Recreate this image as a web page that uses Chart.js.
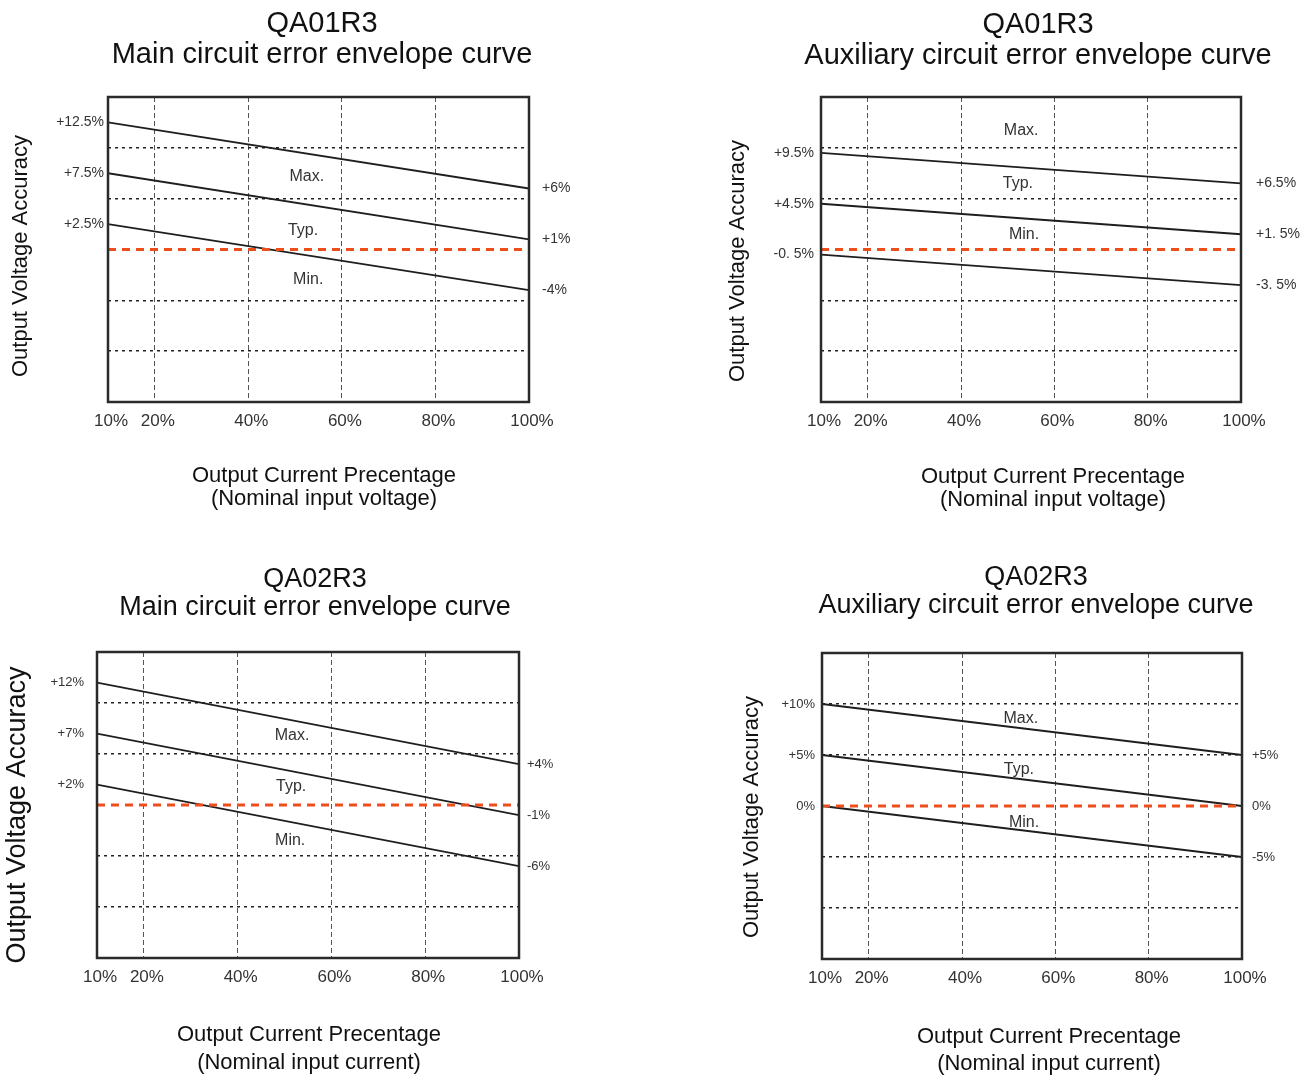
<!DOCTYPE html>
<html>
<head>
<meta charset="utf-8">
<title>QA01R3 / QA02R3 error envelope curves</title>
<script src="https://cdn.jsdelivr.net/npm/chart.js@4.4.1/dist/chart.umd.min.js"></script>
<style>
    html, body { margin: 0; padding: 0; background: #fff; }
    #page { position: relative; width: 1309px; height: 1079px; overflow: hidden; }
    #page canvas { position: absolute; }
</style>
</head>
<body>
<div id="page">
    <canvas id="qa01-main"></canvas>
    <canvas id="qa01-aux"></canvas>
    <canvas id="qa02-main"></canvas>
    <canvas id="qa02-aux"></canvas>
</div>
<script>
// ---- data ----
const loadPoints = [10, 100];               // output current %, start and end of each curve
const xTickValues = [10, 20, 40, 60, 80, 100];
const xTickLabels = ['10%', '20%', '40%', '60%', '80%', '100%'];
const yGridTicks = [-15, -10, -5, 0, 5, 10, 15];
const zeroLine = [0, 0];

const qa01MainMax = [12.5, 6];
const qa01MainTyp = [7.5, 1];
const qa01MainMin = [2.5, -4];
const qa01MainStartLabels = ['+12.5%', '+7.5%', '+2.5%'];
const qa01MainEndLabels = ['+6%', '+1%', '-4%'];

const qa01AuxMax = [9.5, 6.5];
const qa01AuxTyp = [4.5, 1.5];
const qa01AuxMin = [-0.5, -3.5];
const qa01AuxStartLabels = ['+9.5%', '+4.5%', '-0. 5%'];
const qa01AuxEndLabels = ['+6.5%', '+1. 5%', '-3. 5%'];

const qa02MainMax = [12, 4];
const qa02MainTyp = [7, -1];
const qa02MainMin = [2, -6];
const qa02MainStartLabels = ['+12%', '+7%', '+2%'];
const qa02MainEndLabels = ['+4%', '-1%', '-6%'];

const qa02AuxMax = [10, 5];
const qa02AuxTyp = [5, 0];
const qa02AuxMin = [0, -5];
const qa02AuxStartLabels = ['+10%', '+5%', '0%'];
const qa02AuxEndLabels = ['+5%', '0%', '-5%'];

// ---- layout (page pixel coords) ----
const FONT = "'Liberation Sans', Arial, sans-serif";

const panels = [
    {
        id: 'qa01-main', box: { x: 0, y: 0, w: 654, h: 540 },
        area: { l: 108, t: 97, r: 529, b: 402 },
        series: [qa01MainMax, qa01MainTyp, qa01MainMin],
        startLabels: qa01MainStartLabels, endLabels: qa01MainEndLabels,
        labelSize: 14, leftPad: 4, rightPad: 13,
        notes: [{ text: 'Max.', x: 52.5, y: 7.2 }, { text: 'Typ.', x: 51.7, y: 1.9 }, { text: 'Min.', x: 52.8, y: -3.0 }],
        captions: [
            { text: 'QA01R3', x: 322, y: 24, size: 29 },
            { text: 'Main circuit error envelope curve', x: 322, y: 55, size: 29 },
            { text: 'Output Voltage Accuracy', x: 21, y: 256, size: 22, rotate: true },
            { text: 'Output Current Precentage', x: 324, y: 476, size: 22 },
            { text: '(Nominal input voltage)', x: 324, y: 499, size: 22 }
        ]
    },
    {
        id: 'qa01-aux', box: { x: 654, y: 0, w: 655, h: 540 },
        area: { l: 821, t: 97, r: 1241, b: 402 },
        series: [qa01AuxMax, qa01AuxTyp, qa01AuxMin],
        startLabels: qa01AuxStartLabels, endLabels: qa01AuxEndLabels,
        labelSize: 14, leftPad: 7, rightPad: 15,
        notes: [{ text: 'Max.', x: 52.9, y: 11.7 }, { text: 'Typ.', x: 52.2, y: 6.5 }, { text: 'Min.', x: 53.5, y: 1.45 }],
        captions: [
            { text: 'QA01R3', x: 1038, y: 25, size: 29 },
            { text: 'Auxiliary circuit error envelope curve', x: 1038, y: 56, size: 29 },
            { text: 'Output Voltage Accuracy', x: 738, y: 261, size: 22, rotate: true },
            { text: 'Output Current Precentage', x: 1053, y: 477, size: 22 },
            { text: '(Nominal input voltage)', x: 1053, y: 500, size: 22 }
        ]
    },
    {
        id: 'qa02-main', box: { x: 0, y: 540, w: 654, h: 539 },
        area: { l: 97, t: 652, r: 519, b: 958 },
        series: [qa02MainMax, qa02MainTyp, qa02MainMin],
        startLabels: qa02MainStartLabels, endLabels: qa02MainEndLabels,
        labelSize: 13, leftPad: 13, rightPad: 8,
        notes: [{ text: 'Max.', x: 51.6, y: 6.8 }, { text: 'Typ.', x: 51.4, y: 1.8 }, { text: 'Min.', x: 51.2, y: -3.5 }],
        captions: [
            { text: 'QA02R3', x: 315, y: 580, size: 27 },
            { text: 'Main circuit error envelope curve', x: 315, y: 608, size: 27 },
            { text: 'Output Voltage Accuracy', x: 18, y: 815, size: 27, rotate: true },
            { text: 'Output Current Precentage', x: 309, y: 1035, size: 22 },
            { text: '(Nominal input current)', x: 309, y: 1063, size: 22 }
        ]
    },
    {
        id: 'qa02-aux', box: { x: 654, y: 540, w: 655, h: 539 },
        area: { l: 822, t: 653, r: 1242, b: 959 },
        series: [qa02AuxMax, qa02AuxTyp, qa02AuxMin],
        startLabels: qa02AuxStartLabels, endLabels: qa02AuxEndLabels,
        labelSize: 13, leftPad: 7, rightPad: 10,
        notes: [{ text: 'Max.', x: 52.6, y: 8.6 }, { text: 'Typ.', x: 52.2, y: 3.6 }, { text: 'Min.', x: 53.3, y: -1.6 }],
        captions: [
            { text: 'QA02R3', x: 1036, y: 578, size: 27 },
            { text: 'Auxiliary circuit error envelope curve', x: 1036, y: 606, size: 27 },
            { text: 'Output Voltage Accuracy', x: 752, y: 817, size: 22, rotate: true },
            { text: 'Output Current Precentage', x: 1049, y: 1037, size: 22 },
            { text: '(Nominal input current)', x: 1049, y: 1064, size: 22 }
        ]
    }
];

Chart.defaults.font.family = FONT;
Chart.defaults.color = '#333';

// frame, in-plot notes and the free captions of one panel
function makeDecor(panel) {
    return {
        id: 'decor-' + panel.id,
        afterDatasetsDraw(chart) {
            const { ctx, chartArea: a, scales } = chart;
            ctx.save();
            ctx.strokeStyle = '#2a2a2a';
            ctx.lineWidth = 2.5;
            ctx.strokeRect(a.left, a.top, a.right - a.left, a.bottom - a.top);

            ctx.fillStyle = '#333';
            ctx.font = `16px ${FONT}`;
            ctx.textAlign = 'center';
            ctx.textBaseline = 'middle';
            panel.notes.forEach(n => {
                ctx.fillText(n.text, scales.x.getPixelForValue(n.x), scales.y.getPixelForValue(n.y));
            });
            ctx.restore();
        },
        afterDraw(chart) {
            const ctx = chart.ctx;
            ctx.save();
            ctx.fillStyle = '#111';
            ctx.textAlign = 'center';
            ctx.textBaseline = 'middle';
            panel.captions.forEach(c => {
                ctx.font = `${c.size}px ${FONT}`;
                const x = c.x - panel.box.x;
                const y = c.y - panel.box.y;
                if (c.rotate) {
                    ctx.save();
                    ctx.translate(x, y);
                    ctx.rotate(-Math.PI / 2);
                    ctx.fillText(c.text, 0, 0);
                    ctx.restore();
                } else {
                    ctx.fillText(c.text, x, y);
                }
            });
            ctx.restore();
        }
    };
}

function buildChart(panel) {
    const canvas = document.getElementById(panel.id);
    const { box, area } = panel;
    canvas.width = box.w;
    canvas.height = box.h;
    canvas.style.left = box.x + 'px';
    canvas.style.top = box.y + 'px';

    const leftW = area.l - box.x;
    const rightW = box.x + box.w - area.r;
    const bottomH = box.y + box.h - area.b;
    const startValues = panel.series.map(s => s[0]);
    const endValues = panel.series.map(s => s[s.length - 1]);

    const curves = panel.series.map(s => ({
        data: loadPoints.map((x, i) => ({ x: x, y: s[i] })),
        borderColor: '#1e1e1e',
        borderWidth: 1.8,
        pointRadius: 0,
        xAxisID: 'x',
        yAxisID: 'y'
    }));
    const zero = {
        data: loadPoints.map((x, i) => ({ x: x, y: zeroLine[i] })),
        borderColor: '#ec4f1c',
        borderWidth: 3,
        borderDash: [8, 6],
        pointRadius: 0,
        xAxisID: 'x',
        yAxisID: 'y'
    };

    const yRange = { type: 'linear', min: -15, max: 15 };

    return new Chart(canvas, {
        type: 'line',
        data: { datasets: [zero, ...curves] },
        options: {
            responsive: false,
            animation: false,
            layout: { padding: { left: 0, right: 0, top: area.t - box.y, bottom: 0 } },
            plugins: { legend: { display: false }, tooltip: { enabled: false }, title: { display: false } },
            scales: {
                x: {
                    type: 'linear', min: 10, max: 100, position: 'bottom',
                    afterBuildTicks: s => { s.ticks = xTickValues.map(v => ({ value: v })); },
                    afterFit: s => { s.height = bottomH; },
                    grid: { color: '#555', lineWidth: 1, drawTicks: false },
                    border: { display: false, dash: [5, 3] },
                    ticks: {
                        padding: 9, maxRotation: 0, autoSkip: false, labelOffset: 3,
                        font: { size: 17 }, color: '#333',
                        callback: (v, i) => xTickLabels[i]
                    }
                },
                yGrid: {
                    ...yRange, position: 'left',
                    afterBuildTicks: s => { s.ticks = yGridTicks.map(v => ({ value: v })); },
                    afterFit: s => { s.width = 0; },
                    grid: {
                        lineWidth: 1.5, drawTicks: false,
                        color: c => (c.tick && c.tick.value === 0 ? 'rgba(0,0,0,0)' : '#222')
                    },
                    border: { display: false, dash: [3, 4] },
                    ticks: { display: false }
                },
                y: {
                    ...yRange, position: 'left',
                    afterBuildTicks: s => { s.ticks = startValues.map(v => ({ value: v })); },
                    afterFit: s => { s.width = leftW; },
                    grid: { display: false, drawTicks: false },
                    border: { display: false },
                    ticks: {
                        padding: panel.leftPad, autoSkip: false,
                        font: { size: panel.labelSize }, color: '#333',
                        callback: (v, i) => panel.startLabels[i]
                    }
                },
                yEnd: {
                    ...yRange, position: 'right',
                    afterBuildTicks: s => { s.ticks = endValues.map(v => ({ value: v })); },
                    afterFit: s => { s.width = rightW; },
                    grid: { display: false, drawTicks: false },
                    border: { display: false },
                    ticks: {
                        padding: panel.rightPad, autoSkip: false,
                        font: { size: panel.labelSize }, color: '#333',
                        callback: (v, i) => panel.endLabels[i]
                    }
                }
            }
        },
        plugins: [makeDecor(panel)]
    });
}

panels.forEach(buildChart);
</script>
</body>
</html>
